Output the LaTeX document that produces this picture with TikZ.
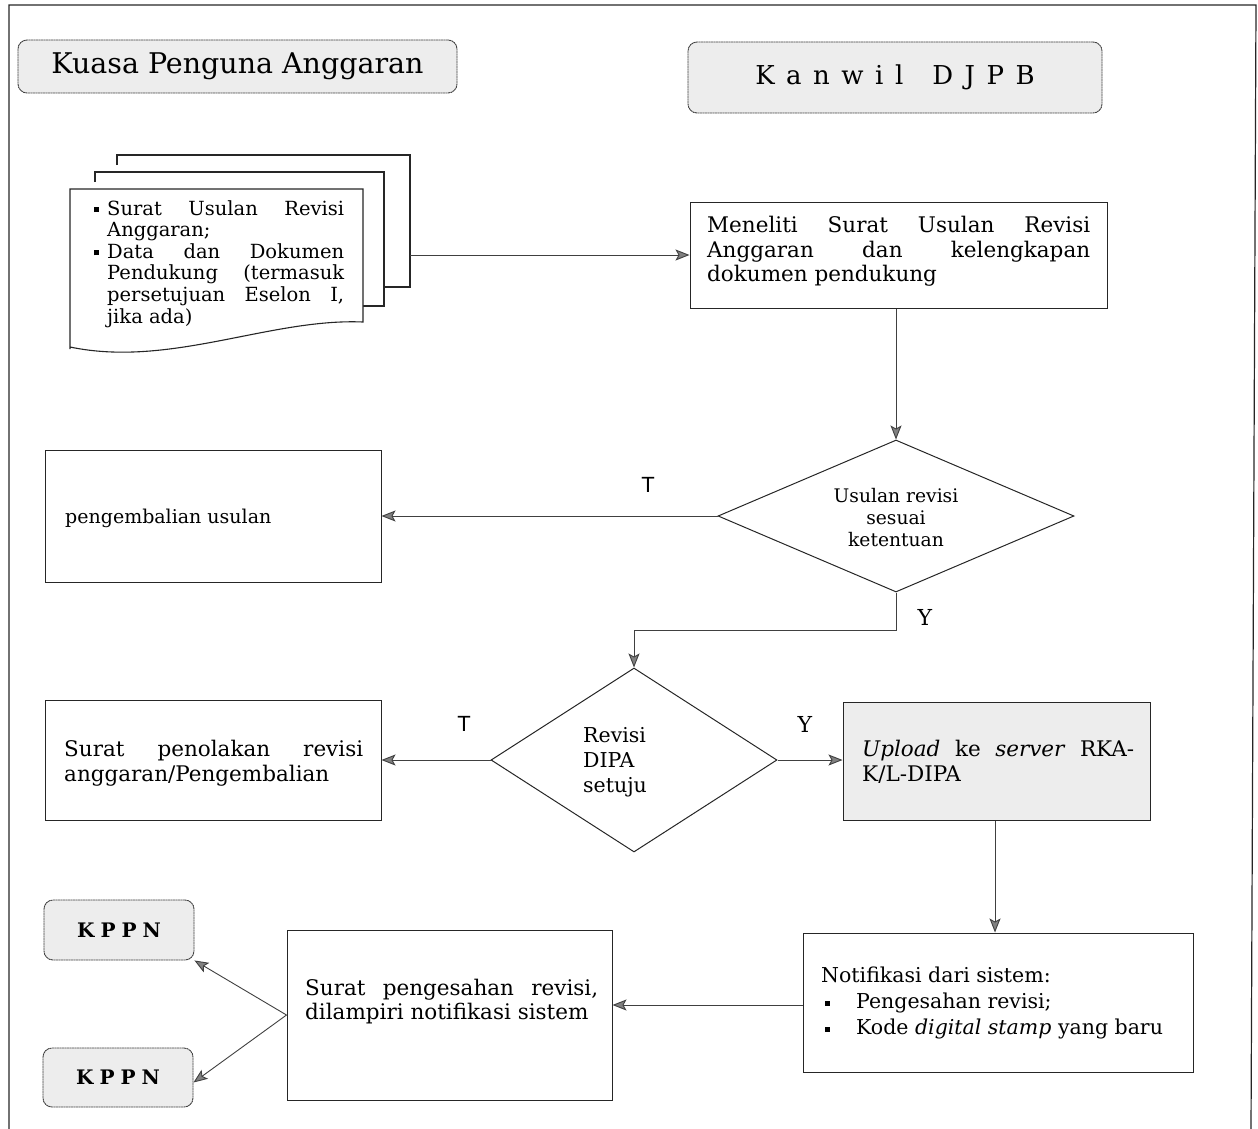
\documentclass[tikz,border=0pt]{standalone}
\usepackage{fontspec}
\setmainfont{DejaVu Serif}
\newfontfamily\lblsans{Liberation Sans}
\usetikzlibrary{shapes.geometric,arrows.meta}
\newcommand{\fs}[2]{\fontsize{#1}{#2}\selectfont}
\newcommand{\sqb}{\rule[0.15em]{5pt}{5pt}}
\newcommand{\gp}{\hspace{11.5pt}}
\tikzset{
  ln/.style={draw=black!85, line width=1pt},
  box/.style={ln, rectangle, inner sep=0pt},
  rbox/.style={draw=black!75, line width=0.9pt, dash pattern=on 2pt off 0.5pt, fill=black!7, rounded corners=9pt, inner sep=0pt},
  dia/.style={ln, diamond, inner sep=0pt},
  arr/.style={draw=black!75, line width=0.9pt, -{Stealth[length=14pt,width=11pt,inset=3pt,fill=black!50]}},
  lbl/.style={inner sep=0pt, font=\lblsans\fs{22}{26}},
  lbly/.style={inner sep=0pt, font=\fs{22}{26}},
}
\begin{document}
\begin{tikzpicture}[x=1pt,y=-1pt]
\useasboundingbox (0,0) rectangle (1258,1129);
% outer frame
\draw[line width=1.2pt, black!85] (9,1129) -- (9,5) -- (1256,5) -- (1251,1129);

% headers
\node[rbox, minimum width=439pt, minimum height=53pt] (kpa) at (237.5,66.5) {};
\node[inner sep=0pt, font=\fs{28.5}{32}] at (kpa) {Kuasa Penguna Anggaran};
\node[rbox, minimum width=414pt, minimum height=71pt] (kanwil) at (895,77.5) {};
\node[inner sep=0pt, font=\fs{26}{30}] at (kanwil) {K\gp a\gp n\gp w\gp i\gp l\hspace{29pt}D\gp J\gp P\gp B};

% document stack
\draw[ln, line width=1.1pt] (117,165) -- (117,155) -- (410,155) -- (410,287) -- (385,287);
\draw[ln, line width=1.1pt] (95,182) -- (95,172) -- (384,172) -- (384,306) -- (363,306);
\draw[ln, line width=1.1pt, fill=white] (70,349) -- (70,189) -- (363,189) -- (363,322)
   .. controls (270,318) and (170,368) .. (70,347);
\coordinate (docR) at (410,255);
\node[anchor=north west, inner sep=0pt, font=\fs{19.5}{21.6}, align=left] (doctext) at (107,200) {%
  \llap{\sqb\hspace{8pt}}\makebox[237pt][s]{Surat Usulan Revisi}\\
  Anggaran;\\
  \llap{\sqb\hspace{8pt}}\makebox[237pt][s]{Data dan Dokumen}\\
  \makebox[237pt][s]{Pendukung (termasuk}\\
  \makebox[237pt][s]{persetujuan Eselon I,}\\
  jika ada)};

% Meneliti box
\node[box, minimum width=417pt, minimum height=106pt] (men) at (898.5,255) {};
\node[anchor=north west, inner sep=0pt, font=\fs{21.5}{24.5}, align=left] at (707,216) {%
  \makebox[383pt][s]{Meneliti Surat Usulan Revisi}\\
  \makebox[383pt][s]{Anggaran dan kelengkapan}\\
  dokumen pendukung};

% diamond 1
\node[dia, minimum width=356pt, minimum height=152pt] (d1) at (896,516) {};
\node[inner sep=0pt, font=\fs{18.7}{22}, align=center] at (896,518) {Usulan revisi\\sesuai\\ketentuan};

% pengembalian
\node[box, minimum width=336pt, minimum height=132pt] (peng) at (213,516) {};
\node[anchor=west, inner sep=0pt, font=\fs{19}{22}] at (65,518) {pengembalian usulan};

% diamond 2
\node[dia, minimum width=286pt, minimum height=184pt] (d2) at (634,760) {};
\node[anchor=north west, inner sep=0pt, font=\fs{20.5}{25}, align=left] at (583,727) {Revisi\\DIPA\\setuju};

% tolak
\node[box, minimum width=336pt, minimum height=120pt] (tolak) at (213,760) {};
\node[anchor=north west, inner sep=0pt, font=\fs{21.5}{25}, align=left] at (64,740) {%
  \makebox[299pt][s]{Surat penolakan revisi}\\
  anggaran/Pengembalian};

% upload
\node[box, fill=black!7, minimum width=307pt, minimum height=118pt] (up) at (996.5,761) {};
\node[anchor=north west, inner sep=0pt, font=\fs{21.5}{25}, align=left] at (862,740) {%
  \makebox[272pt][s]{\textit{Upload} ke \textit{server} RKA-}\\
  K/L-DIPA};

% notif
\node[box, minimum width=390pt, minimum height=139pt] (notif) at (998,1002.5) {};
\node[anchor=north west, inner sep=0pt, font=\fs{20.5}{26}, align=left] at (821,967) {%
  Notifikasi dari sistem:\\
  \hspace{4pt}\sqb\hspace{26pt}Pengesahan revisi;\\
  \hspace{4pt}\sqb\hspace{26pt}Kode \textit{digital stamp} yang baru};

% pengesahan
\node[box, minimum width=325pt, minimum height=170pt] (sah) at (449.5,1015) {};
\node[anchor=north west, inner sep=0pt, font=\fs{21.5}{23.5}, align=left] at (305,979) {%
  \makebox[293pt][s]{Surat pengesahan revisi,}\\
  dilampiri notifikasi sistem};

% KPPN
\node[rbox, minimum width=150pt, minimum height=60pt] (k1) at (119,930) {};
\node[inner sep=0pt, font=\bfseries\fs{20}{24}] at (k1) {K\hspace{6pt}P\hspace{6pt}P\hspace{6pt}N};
\node[rbox, minimum width=150pt, minimum height=59pt] (k2) at (118,1077.5) {};
\node[inner sep=0pt, font=\bfseries\fs{20}{24}] at (k2) {K\hspace{6pt}P\hspace{6pt}P\hspace{6pt}N};

% connectors
\draw[arr] (docR) -- (men.west |- docR);
\draw[arr] (men.south -| d1.north) -- (d1.north);
\draw[arr] (d1.west) -- (peng.east |- d1.west);
\draw[arr] (d1.south) -- (896,630) -| (d2.north);
\draw[arr] (d2.west) -- (tolak.east |- d2.west);
\draw[arr] (d2.east) -- (up.west |- d2.east);
\draw[arr] (up.south -| 995,0) -- (notif.north -| 995,0);
\draw[arr] (notif.west |- 0,1005) -- (sah.east |- 0,1005);
\draw[arr] (sah.west) -- (k1.south east);
\draw[arr] (sah.west) -- ([yshift=-5pt]k2.east);

% labels
\node[lbl] at (648,485) {T};
\node[lbly] at (925,617) {Y};
\node[lbl] at (464,724) {T};
\node[lbly] at (805,724) {Y};
\end{tikzpicture}
\end{document}
